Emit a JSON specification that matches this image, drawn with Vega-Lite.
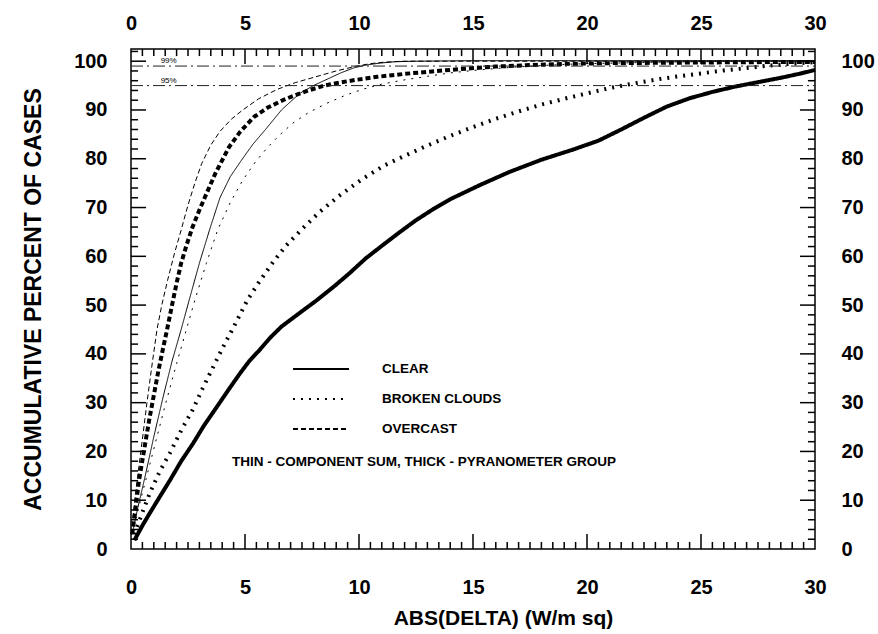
{
  "$schema": "https://vega.github.io/schema/vega-lite/v6.json",
  "autosize": {"type": "none"},
  "padding": {"left": 131, "top": 49, "right": 63, "bottom": 85},
  "width": 684,
  "height": 500,
  "background": "white",
  "config": {
    "view": {"stroke": "black", "strokeWidth": 1.5},
    "font": "Liberation Sans",
    "axis": {
      "labelFont": "Liberation Sans", "labelFontWeight": "bold", "labelColor": "black",
      "titleFont": "Liberation Sans", "titleFontWeight": "bold", "titleColor": "black",
      "grid": false, "domain": false, "ticks": false, "tickSize": 0, "labelFlush": false, "labelOverlap": false
    }
  },
  "datasets": {
    "curves": [
      {"sky":"CLEAR","type":"thick","x":0.15,"y":1.8},{"sky":"CLEAR","type":"thick","x":0.5,"y":4.8},{"sky":"CLEAR","type":"thick","x":0.83,"y":7.4},{"sky":"CLEAR","type":"thick","x":1.3,"y":11},{"sky":"CLEAR","type":"thick","x":1.71,"y":14.1},{"sky":"CLEAR","type":"thick","x":2.2,"y":18},{"sky":"CLEAR","type":"thick","x":2.73,"y":21.7},{"sky":"CLEAR","type":"thick","x":3.2,"y":25.3},{"sky":"CLEAR","type":"thick","x":3.76,"y":29.1},{"sky":"CLEAR","type":"thick","x":4.3,"y":32.8},{"sky":"CLEAR","type":"thick","x":4.78,"y":36},{"sky":"CLEAR","type":"thick","x":5.2,"y":38.6},{"sky":"CLEAR","type":"thick","x":5.66,"y":40.9},{"sky":"CLEAR","type":"thick","x":6.1,"y":43.3},{"sky":"CLEAR","type":"thick","x":6.6,"y":45.6},{"sky":"CLEAR","type":"thick","x":7.4,"y":48.4},{"sky":"CLEAR","type":"thick","x":8.15,"y":51},{"sky":"CLEAR","type":"thick","x":8.9,"y":53.8},{"sky":"CLEAR","type":"thick","x":9.6,"y":56.6},{"sky":"CLEAR","type":"thick","x":10.3,"y":59.6},{"sky":"CLEAR","type":"thick","x":11.1,"y":62.5},{"sky":"CLEAR","type":"thick","x":11.8,"y":65},{"sky":"CLEAR","type":"thick","x":12.5,"y":67.4},{"sky":"CLEAR","type":"thick","x":13.3,"y":69.8},{"sky":"CLEAR","type":"thick","x":14,"y":71.7},{"sky":"CLEAR","type":"thick","x":15.3,"y":74.6},{"sky":"CLEAR","type":"thick","x":16.6,"y":77.3},{"sky":"CLEAR","type":"thick","x":18,"y":79.8},{"sky":"CLEAR","type":"thick","x":19.4,"y":81.9},{"sky":"CLEAR","type":"thick","x":20.5,"y":83.7},{"sky":"CLEAR","type":"thick","x":21.5,"y":86},{"sky":"CLEAR","type":"thick","x":22.5,"y":88.4},{"sky":"CLEAR","type":"thick","x":23.5,"y":90.7},{"sky":"CLEAR","type":"thick","x":24.5,"y":92.4},{"sky":"CLEAR","type":"thick","x":25.5,"y":93.7},{"sky":"CLEAR","type":"thick","x":26.5,"y":94.8},{"sky":"CLEAR","type":"thick","x":27.5,"y":95.7},{"sky":"CLEAR","type":"thick","x":28.5,"y":96.6},{"sky":"CLEAR","type":"thick","x":29.3,"y":97.4},{"sky":"CLEAR","type":"thick","x":30,"y":98.2},

      {"sky":"BROKEN CLOUDS","type":"thick","x":0.15,"y":3},{"sky":"BROKEN CLOUDS","type":"thick","x":0.5,"y":7.5},{"sky":"BROKEN CLOUDS","type":"thick","x":0.83,"y":11.5},{"sky":"BROKEN CLOUDS","type":"thick","x":1.25,"y":15.8},{"sky":"BROKEN CLOUDS","type":"thick","x":1.71,"y":19.7},{"sky":"BROKEN CLOUDS","type":"thick","x":2.2,"y":24.3},{"sky":"BROKEN CLOUDS","type":"thick","x":2.7,"y":28.5},{"sky":"BROKEN CLOUDS","type":"thick","x":3.15,"y":33},{"sky":"BROKEN CLOUDS","type":"thick","x":3.6,"y":37.3},{"sky":"BROKEN CLOUDS","type":"thick","x":4.05,"y":41.5},{"sky":"BROKEN CLOUDS","type":"thick","x":4.5,"y":45.5},{"sky":"BROKEN CLOUDS","type":"thick","x":5.1,"y":51},{"sky":"BROKEN CLOUDS","type":"thick","x":5.6,"y":54.6},{"sky":"BROKEN CLOUDS","type":"thick","x":6.2,"y":58.6},{"sky":"BROKEN CLOUDS","type":"thick","x":6.8,"y":62.2},{"sky":"BROKEN CLOUDS","type":"thick","x":7.5,"y":65.6},{"sky":"BROKEN CLOUDS","type":"thick","x":8.3,"y":69.2},{"sky":"BROKEN CLOUDS","type":"thick","x":9.1,"y":72.3},{"sky":"BROKEN CLOUDS","type":"thick","x":10.1,"y":75.7},{"sky":"BROKEN CLOUDS","type":"thick","x":11.1,"y":78.6},{"sky":"BROKEN CLOUDS","type":"thick","x":12,"y":80.6},{"sky":"BROKEN CLOUDS","type":"thick","x":12.9,"y":82.5},{"sky":"BROKEN CLOUDS","type":"thick","x":13.9,"y":84.5},{"sky":"BROKEN CLOUDS","type":"thick","x":15,"y":86.5},{"sky":"BROKEN CLOUDS","type":"thick","x":16,"y":88.2},{"sky":"BROKEN CLOUDS","type":"thick","x":17,"y":89.7},{"sky":"BROKEN CLOUDS","type":"thick","x":18,"y":91.1},{"sky":"BROKEN CLOUDS","type":"thick","x":19,"y":92.3},{"sky":"BROKEN CLOUDS","type":"thick","x":20,"y":93.4},{"sky":"BROKEN CLOUDS","type":"thick","x":21,"y":94.5},{"sky":"BROKEN CLOUDS","type":"thick","x":22,"y":95.4},{"sky":"BROKEN CLOUDS","type":"thick","x":23,"y":96.2},{"sky":"BROKEN CLOUDS","type":"thick","x":24,"y":96.9},{"sky":"BROKEN CLOUDS","type":"thick","x":25,"y":97.5},{"sky":"BROKEN CLOUDS","type":"thick","x":26,"y":98.1},{"sky":"BROKEN CLOUDS","type":"thick","x":27,"y":98.6},{"sky":"BROKEN CLOUDS","type":"thick","x":28,"y":99.1},{"sky":"BROKEN CLOUDS","type":"thick","x":29,"y":99.5},{"sky":"BROKEN CLOUDS","type":"thick","x":30,"y":99.8},

      {"sky":"OVERCAST","type":"thick","x":0.05,"y":3},{"sky":"OVERCAST","type":"thick","x":0.2,"y":8.5},{"sky":"OVERCAST","type":"thick","x":0.35,"y":14},{"sky":"OVERCAST","type":"thick","x":0.6,"y":21},{"sky":"OVERCAST","type":"thick","x":0.8,"y":26.5},{"sky":"OVERCAST","type":"thick","x":1,"y":31.5},{"sky":"OVERCAST","type":"thick","x":1.2,"y":36.5},{"sky":"OVERCAST","type":"thick","x":1.4,"y":41},{"sky":"OVERCAST","type":"thick","x":1.56,"y":44.5},{"sky":"OVERCAST","type":"thick","x":1.8,"y":50},{"sky":"OVERCAST","type":"thick","x":2,"y":54.5},{"sky":"OVERCAST","type":"thick","x":2.2,"y":58.6},{"sky":"OVERCAST","type":"thick","x":2.45,"y":62.5},{"sky":"OVERCAST","type":"thick","x":2.7,"y":66},{"sky":"OVERCAST","type":"thick","x":3,"y":69.5},{"sky":"OVERCAST","type":"thick","x":3.25,"y":72.2},{"sky":"OVERCAST","type":"thick","x":3.7,"y":77},{"sky":"OVERCAST","type":"thick","x":4.3,"y":82.4},{"sky":"OVERCAST","type":"thick","x":4.8,"y":85.6},{"sky":"OVERCAST","type":"thick","x":5.4,"y":88.6},{"sky":"OVERCAST","type":"thick","x":6,"y":90.5},{"sky":"OVERCAST","type":"thick","x":6.7,"y":92.1},{"sky":"OVERCAST","type":"thick","x":7.3,"y":93.2},{"sky":"OVERCAST","type":"thick","x":7.85,"y":94.1},{"sky":"OVERCAST","type":"thick","x":8.4,"y":94.9},{"sky":"OVERCAST","type":"thick","x":9,"y":95.5},{"sky":"OVERCAST","type":"thick","x":9.9,"y":96.2},{"sky":"OVERCAST","type":"thick","x":10.8,"y":96.8},{"sky":"OVERCAST","type":"thick","x":12,"y":97.4},{"sky":"OVERCAST","type":"thick","x":13.2,"y":97.9},{"sky":"OVERCAST","type":"thick","x":14.5,"y":98.4},{"sky":"OVERCAST","type":"thick","x":16,"y":98.9},{"sky":"OVERCAST","type":"thick","x":17.5,"y":99.2},{"sky":"OVERCAST","type":"thick","x":19,"y":99.45},{"sky":"OVERCAST","type":"thick","x":21,"y":99.6},{"sky":"OVERCAST","type":"thick","x":24,"y":99.7},{"sky":"OVERCAST","type":"thick","x":27,"y":99.8},{"sky":"OVERCAST","type":"thick","x":30,"y":99.85},

      {"sky":"CLEAR","type":"thin","x":0.05,"y":3},{"sky":"CLEAR","type":"thin","x":0.3,"y":8.5},{"sky":"CLEAR","type":"thin","x":0.6,"y":14.5},{"sky":"CLEAR","type":"thin","x":1,"y":23},{"sky":"CLEAR","type":"thin","x":1.4,"y":31},{"sky":"CLEAR","type":"thin","x":1.8,"y":38.5},{"sky":"CLEAR","type":"thin","x":2.2,"y":45},{"sky":"CLEAR","type":"thin","x":2.55,"y":51},{"sky":"CLEAR","type":"thin","x":3,"y":58.6},{"sky":"CLEAR","type":"thin","x":3.45,"y":65.5},{"sky":"CLEAR","type":"thin","x":3.9,"y":72},{"sky":"CLEAR","type":"thin","x":4.35,"y":76.3},{"sky":"CLEAR","type":"thin","x":4.8,"y":79.4},{"sky":"CLEAR","type":"thin","x":5.35,"y":83},{"sky":"CLEAR","type":"thin","x":5.9,"y":86},{"sky":"CLEAR","type":"thin","x":6.6,"y":90},{"sky":"CLEAR","type":"thin","x":7.4,"y":93.4},{"sky":"CLEAR","type":"thin","x":8,"y":95},{"sky":"CLEAR","type":"thin","x":8.6,"y":96.3},{"sky":"CLEAR","type":"thin","x":9.2,"y":97.6},{"sky":"CLEAR","type":"thin","x":9.75,"y":98.6},{"sky":"CLEAR","type":"thin","x":10.3,"y":99.2},{"sky":"CLEAR","type":"thin","x":10.9,"y":99.6},{"sky":"CLEAR","type":"thin","x":11.6,"y":99.9},{"sky":"CLEAR","type":"thin","x":12.5,"y":100},{"sky":"CLEAR","type":"thin","x":15,"y":100.1},{"sky":"CLEAR","type":"thin","x":20,"y":100.1},{"sky":"CLEAR","type":"thin","x":25,"y":100.1},{"sky":"CLEAR","type":"thin","x":30,"y":100.1},

      {"sky":"BROKEN CLOUDS","type":"thin","x":0.05,"y":3},{"sky":"BROKEN CLOUDS","type":"thin","x":0.5,"y":11.5},{"sky":"BROKEN CLOUDS","type":"thin","x":1,"y":20.5},{"sky":"BROKEN CLOUDS","type":"thin","x":1.5,"y":29.5},{"sky":"BROKEN CLOUDS","type":"thin","x":2,"y":38},{"sky":"BROKEN CLOUDS","type":"thin","x":2.4,"y":44.5},{"sky":"BROKEN CLOUDS","type":"thin","x":2.8,"y":51},{"sky":"BROKEN CLOUDS","type":"thin","x":3.3,"y":58.5},{"sky":"BROKEN CLOUDS","type":"thin","x":3.8,"y":65.4},{"sky":"BROKEN CLOUDS","type":"thin","x":4.35,"y":71},{"sky":"BROKEN CLOUDS","type":"thin","x":4.9,"y":75.6},{"sky":"BROKEN CLOUDS","type":"thin","x":5.45,"y":79.3},{"sky":"BROKEN CLOUDS","type":"thin","x":6,"y":82.4},{"sky":"BROKEN CLOUDS","type":"thin","x":6.55,"y":85},{"sky":"BROKEN CLOUDS","type":"thin","x":7.1,"y":87.3},{"sky":"BROKEN CLOUDS","type":"thin","x":7.8,"y":89.5},{"sky":"BROKEN CLOUDS","type":"thin","x":8.6,"y":91.4},{"sky":"BROKEN CLOUDS","type":"thin","x":9.4,"y":93},{"sky":"BROKEN CLOUDS","type":"thin","x":10.2,"y":94.3},{"sky":"BROKEN CLOUDS","type":"thin","x":11,"y":95.3},{"sky":"BROKEN CLOUDS","type":"thin","x":11.9,"y":96.1},{"sky":"BROKEN CLOUDS","type":"thin","x":13,"y":96.9},{"sky":"BROKEN CLOUDS","type":"thin","x":14,"y":97.6},{"sky":"BROKEN CLOUDS","type":"thin","x":15,"y":98.1},{"sky":"BROKEN CLOUDS","type":"thin","x":16,"y":98.5},{"sky":"BROKEN CLOUDS","type":"thin","x":17,"y":98.85},{"sky":"BROKEN CLOUDS","type":"thin","x":18,"y":99.1},{"sky":"BROKEN CLOUDS","type":"thin","x":19,"y":99.35},{"sky":"BROKEN CLOUDS","type":"thin","x":20,"y":99.5},{"sky":"BROKEN CLOUDS","type":"thin","x":22,"y":99.7},{"sky":"BROKEN CLOUDS","type":"thin","x":24,"y":99.85},{"sky":"BROKEN CLOUDS","type":"thin","x":26,"y":99.95},{"sky":"BROKEN CLOUDS","type":"thin","x":28,"y":100},{"sky":"BROKEN CLOUDS","type":"thin","x":30,"y":100},

      {"sky":"OVERCAST","type":"thin","x":0.02,"y":3},{"sky":"OVERCAST","type":"thin","x":0.1,"y":7},{"sky":"OVERCAST","type":"thin","x":0.2,"y":11.5},{"sky":"OVERCAST","type":"thin","x":0.35,"y":17},{"sky":"OVERCAST","type":"thin","x":0.5,"y":22.5},{"sky":"OVERCAST","type":"thin","x":0.7,"y":30},{"sky":"OVERCAST","type":"thin","x":0.9,"y":37},{"sky":"OVERCAST","type":"thin","x":1.14,"y":45},{"sky":"OVERCAST","type":"thin","x":1.35,"y":50},{"sky":"OVERCAST","type":"thin","x":1.6,"y":55},{"sky":"OVERCAST","type":"thin","x":1.9,"y":60.5},{"sky":"OVERCAST","type":"thin","x":2.2,"y":65.4},{"sky":"OVERCAST","type":"thin","x":2.5,"y":70.5},{"sky":"OVERCAST","type":"thin","x":2.8,"y":75},{"sky":"OVERCAST","type":"thin","x":3.1,"y":79},{"sky":"OVERCAST","type":"thin","x":3.5,"y":82.8},{"sky":"OVERCAST","type":"thin","x":3.9,"y":85.6},{"sky":"OVERCAST","type":"thin","x":4.4,"y":88.1},{"sky":"OVERCAST","type":"thin","x":4.9,"y":90},{"sky":"OVERCAST","type":"thin","x":5.6,"y":92.3},{"sky":"OVERCAST","type":"thin","x":6.4,"y":94.2},{"sky":"OVERCAST","type":"thin","x":7.2,"y":95.6},{"sky":"OVERCAST","type":"thin","x":8.1,"y":96.8},{"sky":"OVERCAST","type":"thin","x":9,"y":98},{"sky":"OVERCAST","type":"thin","x":9.9,"y":99},{"sky":"OVERCAST","type":"thin","x":10.5,"y":99.5},{"sky":"OVERCAST","type":"thin","x":11.1,"y":99.8},{"sky":"OVERCAST","type":"thin","x":12,"y":100},{"sky":"OVERCAST","type":"thin","x":15,"y":100},{"sky":"OVERCAST","type":"thin","x":20,"y":100},{"sky":"OVERCAST","type":"thin","x":25,"y":100},{"sky":"OVERCAST","type":"thin","x":30,"y":100}
    ],
    "refs": [{"level": 99, "label": "99%"}, {"level": 95, "label": "95%"}],
    "note": [{"text": "THIN - COMPONENT SUM,  THICK - PYRANOMETER GROUP"}],
    "xmajor": [{"v":5},{"v":10},{"v":15},{"v":20},{"v":25}],
    "xminor": [{"v":0.5},{"v":1},{"v":1.5},{"v":2},{"v":2.5},{"v":3},{"v":3.5},{"v":4},{"v":4.5},{"v":5.5},{"v":6},{"v":6.5},{"v":7},{"v":7.5},{"v":8},{"v":8.5},{"v":9},{"v":9.5},{"v":10.5},{"v":11},{"v":11.5},{"v":12},{"v":12.5},{"v":13},{"v":13.5},{"v":14},{"v":14.5},{"v":15.5},{"v":16},{"v":16.5},{"v":17},{"v":17.5},{"v":18},{"v":18.5},{"v":19},{"v":19.5},{"v":20.5},{"v":21},{"v":21.5},{"v":22},{"v":22.5},{"v":23},{"v":23.5},{"v":24},{"v":24.5},{"v":25.5},{"v":26},{"v":26.5},{"v":27},{"v":27.5},{"v":28},{"v":28.5},{"v":29},{"v":29.5}],
    "ymajor": [{"v":10},{"v":20},{"v":30},{"v":40},{"v":50},{"v":60},{"v":70},{"v":80},{"v":90},{"v":100}],
    "yminor": [{"v":2},{"v":4},{"v":6},{"v":8},{"v":12},{"v":14},{"v":16},{"v":18},{"v":22},{"v":24},{"v":26},{"v":28},{"v":32},{"v":34},{"v":36},{"v":38},{"v":42},{"v":44},{"v":46},{"v":48},{"v":52},{"v":54},{"v":56},{"v":58},{"v":62},{"v":64},{"v":66},{"v":68},{"v":72},{"v":74},{"v":76},{"v":78},{"v":82},{"v":84},{"v":86},{"v":88},{"v":92},{"v":94},{"v":96},{"v":98},{"v":102}]
  },
  "layer": [
    {
      "data": {"name": "curves"},
      "mark": {"type": "line", "color": "black", "strokeCap": "butt"},
      "encoding": {
        "x": {"field": "x", "type": "quantitative",
              "scale": {"domain": [0, 30], "nice": false, "zero": false},
              "axis": {"orient": "bottom", "values": [0,5,10,15,20,25,30],
                       "labelPadding": 28, "labelFontSize": 20,
                       "title": "ABS(DELTA) (W/m sq)", "titleFontSize": 21, "titlePadding": 10, "titleX": 372}},
        "y": {"field": "y", "type": "quantitative",
              "scale": {"domain": [0, 102.5], "nice": false, "zero": false},
              "axis": {"orient": "left", "values": [0,10,20,30,40,50,60,70,80,90,100],
                       "labelPadding": 24, "labelFontSize": 20,
                       "title": "ACCUMULATIVE PERCENT OF CASES", "titleFontSize": 23, "titlePadding": 28}},
        "strokeDash": {"field": "sky", "type": "nominal",
                       "scale": {"domain": ["CLEAR", "BROKEN CLOUDS", "OVERCAST"], "range": [[1, 0], [2, 6], [5, 3]]},
                       "legend": {"orient": "none", "legendX": 161, "legendY": 310, "title": null,
                                  "symbolType": "stroke", "symbolSize": 3136, "symbolStrokeWidth": 2,
                                  "symbolStrokeColor": "black", "labelFont": "Liberation Sans",
                                  "labelFontSize": 13.5, "labelFontWeight": "bold", "labelColor": "black",
                                  "labelOffset": 32, "clipHeight": 20, "rowPadding": 10}},
        "strokeWidth": {"field": "type", "type": "nominal",
                        "scale": {"domain": ["thin", "thick"], "range": [1, 4]}, "legend": null}
      }
    },
    {
      "data": {"name": "refs"},
      "mark": {"type": "rule", "color": "#222222", "strokeWidth": 1, "strokeDash": [12, 4, 2, 4]},
      "encoding": {
        "x": {"datum": 0, "type": "quantitative",
              "axis": {"orient": "top", "values": [0,5,10,15,20,25,30],
                       "labelPadding": 16, "labelFontSize": 20, "title": null}},
        "x2": {"datum": 30},
        "y": {"field": "level", "type": "quantitative",
              "axis": {"orient": "right", "values": [0,10,20,30,40,50,60,70,80,90,100],
                       "labelPadding": 26, "labelFontSize": 20, "title": null}}
      }
    },
    {
      "data": {"name": "refs"},
      "mark": {"type": "text", "align": "left", "baseline": "bottom", "dy": -1, "fontSize": 8, "font": "Liberation Sans", "color": "black"},
      "encoding": {
        "x": {"datum": 1.3, "type": "quantitative", "axis": null},
        "y": {"field": "level", "type": "quantitative", "axis": null},
        "text": {"field": "label"}
      }
    },
    {
      "data": {"name": "note"},
      "mark": {"type": "text", "align": "left", "baseline": "middle", "fontSize": 13.5, "fontWeight": "bold", "font": "Liberation Sans", "color": "black"},
      "encoding": {
        "x": {"datum": 4.43, "type": "quantitative", "axis": null},
        "y": {"datum": 17.8, "type": "quantitative", "axis": null},
        "text": {"field": "text"}
      }
    },
    {
      "data": {"name": "xmajor"},
      "mark": {"type": "rule", "color": "black", "strokeWidth": 1.5},
      "encoding": {
        "x": {"field": "v", "type": "quantitative", "axis": null},
        "y": {"datum": 0, "type": "quantitative", "axis": null},
        "y2": {"datum": 3.1}
      }
    },
    {
      "data": {"name": "xmajor"},
      "mark": {"type": "rule", "color": "black", "strokeWidth": 1.5},
      "encoding": {
        "x": {"field": "v", "type": "quantitative", "axis": null},
        "y": {"datum": 102.5, "type": "quantitative", "axis": null},
        "y2": {"datum": 99.4}
      }
    },
    {
      "data": {"name": "xminor"},
      "mark": {"type": "rule", "color": "black", "strokeWidth": 1.5},
      "encoding": {
        "x": {"field": "v", "type": "quantitative", "axis": null},
        "y": {"datum": 0, "type": "quantitative", "axis": null},
        "y2": {"datum": 1.45}
      }
    },
    {
      "data": {"name": "xminor"},
      "mark": {"type": "rule", "color": "black", "strokeWidth": 1.5},
      "encoding": {
        "x": {"field": "v", "type": "quantitative", "axis": null},
        "y": {"datum": 102.5, "type": "quantitative", "axis": null},
        "y2": {"datum": 101.05}
      }
    },
    {
      "data": {"name": "ymajor"},
      "mark": {"type": "rule", "color": "black", "strokeWidth": 1.5},
      "encoding": {
        "y": {"field": "v", "type": "quantitative", "axis": null},
        "x": {"datum": 0, "type": "quantitative", "axis": null},
        "x2": {"datum": 0.66}
      }
    },
    {
      "data": {"name": "ymajor"},
      "mark": {"type": "rule", "color": "black", "strokeWidth": 1.5},
      "encoding": {
        "y": {"field": "v", "type": "quantitative", "axis": null},
        "x": {"datum": 30, "type": "quantitative", "axis": null},
        "x2": {"datum": 29.34}
      }
    },
    {
      "data": {"name": "yminor"},
      "mark": {"type": "rule", "color": "black", "strokeWidth": 1.5},
      "encoding": {
        "y": {"field": "v", "type": "quantitative", "axis": null},
        "x": {"datum": 0, "type": "quantitative", "axis": null},
        "x2": {"datum": 0.31}
      }
    },
    {
      "data": {"name": "yminor"},
      "mark": {"type": "rule", "color": "black", "strokeWidth": 1.5},
      "encoding": {
        "y": {"field": "v", "type": "quantitative", "axis": null},
        "x": {"datum": 30, "type": "quantitative", "axis": null},
        "x2": {"datum": 29.69}
      }
    }
  ],
  "resolve": {"axis": {"x": "independent", "y": "independent"}}
}
